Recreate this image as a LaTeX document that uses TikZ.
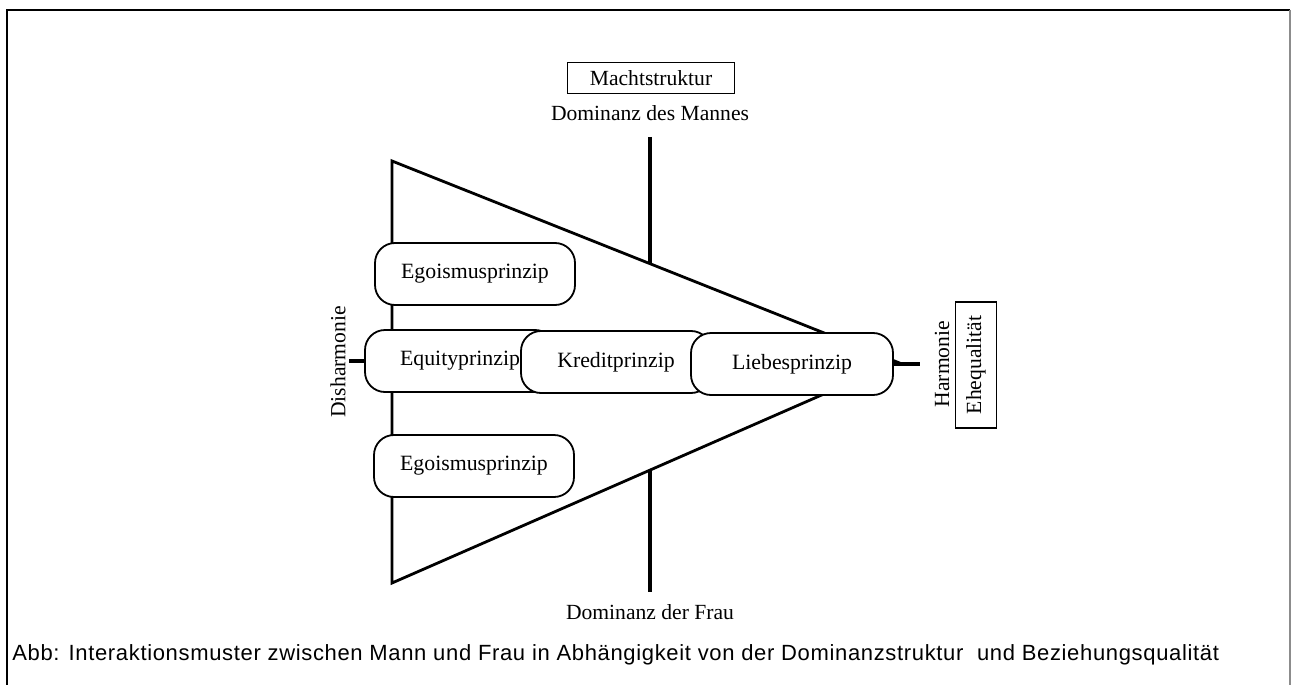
\documentclass[tikz,border=0pt]{standalone}
\usepackage{fontspec}
\setmainfont{Liberation Serif}
\newfontfamily\capfont[LetterSpace=3]{Liberation Sans}
\begin{document}
\begin{tikzpicture}[x=0.5pt,y=-0.5pt,
  prin/.style={draw, line width=0.9pt, rounded corners=10pt, fill=white, minimum height=31pt, inner sep=0pt, font=\fontsize{10.9}{12}\selectfont},
  lab/.style={font=\fontsize{10.8}{12}\selectfont, inner sep=0pt},
  labbox/.style={draw, line width=0.8pt, inner sep=0pt, font=\fontsize{10.8}{12}\selectfont},
  frameline/.style={line width=0.9pt},
  axisline/.style={line width=2pt},
  triline/.style={line width=1.4pt}]
\useasboundingbox (0,0) rectangle (1293,684);
% frame
\draw[frameline] (7,700) -- (7,10) -- (1290,10);
\draw[frameline, black!45] (1290,10) -- (1290,700);
% triangle
\coordinate (A) at (392,161);
\coordinate (B) at (392,583);
\coordinate (C) at (897,362);
\draw[triline] (A) -- (C) -- (B) -- cycle;
% axis
\coordinate (ax1) at (650,137);
\coordinate (ax2) at (650,263);
\coordinate (ax3) at (650,470);
\coordinate (ax4) at (650,592);
\draw[axisline] (ax1) -- (ax2);
\draw[axisline] (ax3) -- (ax4);
% top / bottom labels
\node[labbox, minimum width=83.5pt, minimum height=15.5pt] (macht) at (651,78) {Machtstruktur};
\node[lab] (dm) at (650,113) {Dominanz des Mannes};
\node[lab] (df) at (650,612) {Dominanz der Frau};
% principles
\node[prin, minimum width=100pt] (ego1) at (475,274) {Egoismusprinzip};
\node[prin, minimum width=100pt] (ego2) at (474,466) {Egoismusprinzip};
\node[prin, minimum width=95pt] (equ) at (460,361) {Equityprinzip};
\node[prin, minimum width=95pt] (kre) at (616,362) {Kreditprinzip};
\node[prin, minimum width=101pt] (lie) at (792,364) {Liebesprinzip};
% ticks
\coordinate (dl) at (349,361);
\coordinate (dr) at (920,364);
\draw[axisline] (equ.west) -- (dl);
\draw[axisline] (lie.east) -- (dr);
% side labels
\node[lab, rotate=90] (dis) at (338,362) {Disharmonie};
\node[lab, rotate=90] (har) at (942,364) {Harmonie};
\node[labbox, rotate=90, minimum width=63pt, minimum height=20.5pt] (ehe) at (976,365) {Ehequalität};
% caption
\node[anchor=west, inner sep=0pt, font=\capfont\fontsize{11}{12}\selectfont] (cap) at (12,655) {Abb: Interaktionsmuster zwischen Mann und Frau in Abhängigkeit von der Dominanzstruktur\ \ und Beziehungsqualität};
\end{tikzpicture}
\end{document}
